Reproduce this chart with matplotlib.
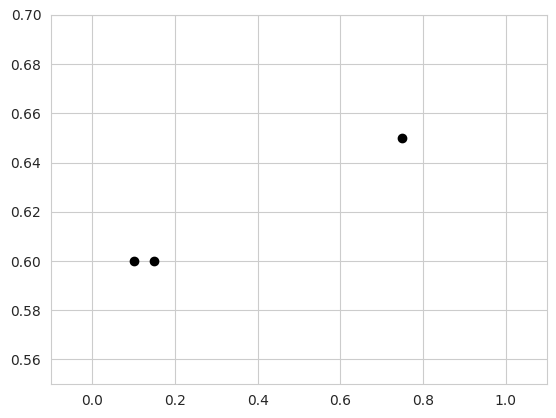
import matplotlib
matplotlib.use("Agg")
import matplotlib.pyplot as plt
import seaborn as sns

sns.set_style("whitegrid")

x_vals = [0.1, 0.15, 0.75]
y_vals = [0.60, 0.60, 0.65]

fig = plt.figure(figsize=(5.56, 4.18), dpi=100)
ax = fig.add_axes([51/556, 1 - 384/418, 496/556, (384-15)/418])
ax.scatter(x_vals, y_vals, color="black", s=36, zorder=3)
ax.set_xlim(-0.1, 1.1)
ax.set_ylim(0.55, 0.70)
ax.set_xticks([0.0, 0.2, 0.4, 0.6, 0.8, 1.0])
ax.set_yticks([0.56, 0.58, 0.60, 0.62, 0.64, 0.66, 0.68, 0.70])
fig.savefig("out.png", dpi=100)
